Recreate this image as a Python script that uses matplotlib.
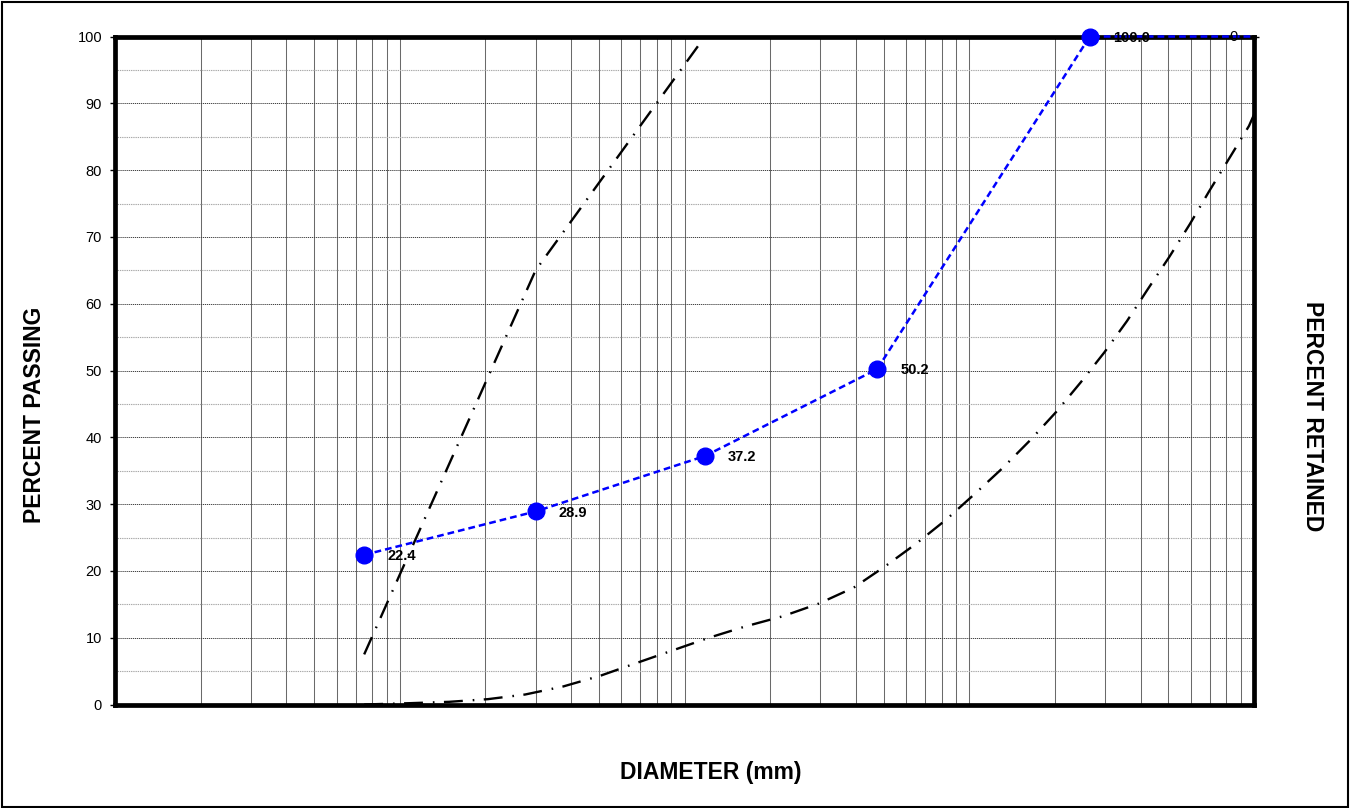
import matplotlib
matplotlib.use("Agg")
import matplotlib.pyplot as plt
from matplotlib.ticker import LogLocator, NullFormatter
from matplotlib.patches import Rectangle

plt.rcParams['font.family'] = ['Liberation Sans', 'DejaVu Sans']

# ---- data ----
sieve_mm = [0.075, 0.3, 1.18, 4.75, 26.5, 100]
passing = [22.4, 28.9, 37.2, 50.2, 100.0, 100.0]
labelled = 5  # first five points carry markers and labels
extra_label = "0"
extra_label_x = 82.0
extra_label_y = 100.0

upper_mm = [0.075, 0.3, 1.18]
upper_pct = [7.5, 65, 100]

lower_mm = [0.075, 0.109, 0.149, 0.204, 0.276, 0.375, 0.506, 0.677, 0.909, 1.22,
            1.64, 2.21, 2.96, 3.93, 5.07, 6.52, 8.31, 10.5, 13.1, 16.4,
            20.2, 24.6, 29.8, 35.8, 42.4, 50.4, 59.5, 69.5, 81.7, 96.0, 100]
lower_pct = [0, 0.2, 0.4, 0.8, 1.5, 2.7, 4.3, 6.2, 8.1, 10.0,
             11.7, 13.2, 15.1, 17.5, 20.7, 24.1, 27.7, 31.6, 35.4, 39.6,
             43.8, 48.2, 52.7, 57.4, 62.2, 67.0, 71.9, 76.8, 81.7, 86.6, 88.3]

y_ticks = list(range(0, 101, 10))

W, H = 1354, 808
fig = plt.figure(figsize=(W / 100, H / 100), dpi=100)
L, R, T, B = 115, 1254, 36.5, 704.5
ax = fig.add_axes([L / W, 1 - B / H, (R - L) / W, (B - T) / H])

ax.set_xscale('log')
ax.set_xlim(0.01, 100)
ax.set_ylim(0, 100)
ax.xaxis.set_major_locator(LogLocator(base=10))
ax.xaxis.set_minor_locator(LogLocator(base=10, subs=range(2, 10)))
ax.xaxis.set_minor_formatter(NullFormatter())
ax.tick_params(axis='x', which='both', length=0, labelbottom=False)
ax.set_yticks(y_ticks)
ax.set_yticks(list(range(5, 100, 10)), minor=True)
ax.tick_params(axis='y', which='major', length=3.5, width=1, direction='out',
               labelsize=10.5, pad=5.8)
ax.tick_params(axis='y', which='minor', length=0)

ax.grid(True, axis='x', which='both', color='#6a6a6a', lw=0.75, ls='-')
ax.grid(True, axis='y', which='major', color='#404040', lw=0.7, ls=(0, (1.2, 0.8)))
ax.grid(True, axis='y', which='minor', color='#a8a8a8', lw=0.8, ls=(0, (1.2, 0.8)))
ax.set_axisbelow(True)
for s in ax.spines.values():
    s.set_linewidth(3.4)
    s.set_color('black')
    s.set_zorder(3)

# envelopes
ax.plot(upper_mm, upper_pct, color='black', lw=1.7,
        ls=(0, (8.0, 4.2, 0.7, 4.0)), dash_capstyle='butt', zorder=4)
ax.plot(lower_mm, lower_pct, color='black', lw=1.7,
        ls=(0, (8.0, 4.2, 0.7, 4.0)), dash_capstyle='butt', zorder=4)

# gradation curve
ax.plot(sieve_mm, passing, color='#0000ff', lw=1.8, ls=(0, (2.7, 1.6)),
        zorder=5, clip_on=False)
ax.plot(sieve_mm[:labelled], passing[:labelled], ls='none', marker='o',
        ms=12, color='#0000ff', zorder=6, clip_on=False)
for d, v in zip(sieve_mm[:labelled], passing[:labelled]):
    ax.annotate(f'{v:.1f}', (d, v), xytext=(16.6, -0.8), textcoords='offset points',
                ha='left', va='center', fontsize=10.5, fontweight='bold',
                zorder=7, annotation_clip=False)
ax.text(extra_label_x, extra_label_y, extra_label, ha='left', va='center',
        fontsize=10.5, zorder=7)

# secondary axis (percent retained) tick
ax2 = ax.twinx()
ax2.set_ylim(100, 0)
ax2.set_yticks([0])
ax2.tick_params(axis='y', length=3.5, width=1, labelright=False)
for s in ax2.spines.values():
    s.set_visible(False)

# axis titles
fig.text(35 / W, 1 - 415 / H, 'PERCENT PASSING', rotation=90, ha='center',
         va='center', fontsize=16.5, fontweight='bold')
fig.text(1312 / W, 1 - 416 / H, 'PERCENT RETAINED', rotation=-90, ha='center',
         va='center', fontsize=16.5, fontweight='bold')
fig.text(711 / W, 1 - 773 / H, 'DIAMETER (mm)', ha='center', va='center',
         fontsize=16.5, fontweight='bold')

# figure border
fig.patches.append(Rectangle((1.5 / W, 1.5 / H), 1346.5 / W, 805 / H,
                             transform=fig.transFigure, fill=False,
                             edgecolor='black', lw=1.5, zorder=0))

fig.savefig('out.png', dpi=100)
